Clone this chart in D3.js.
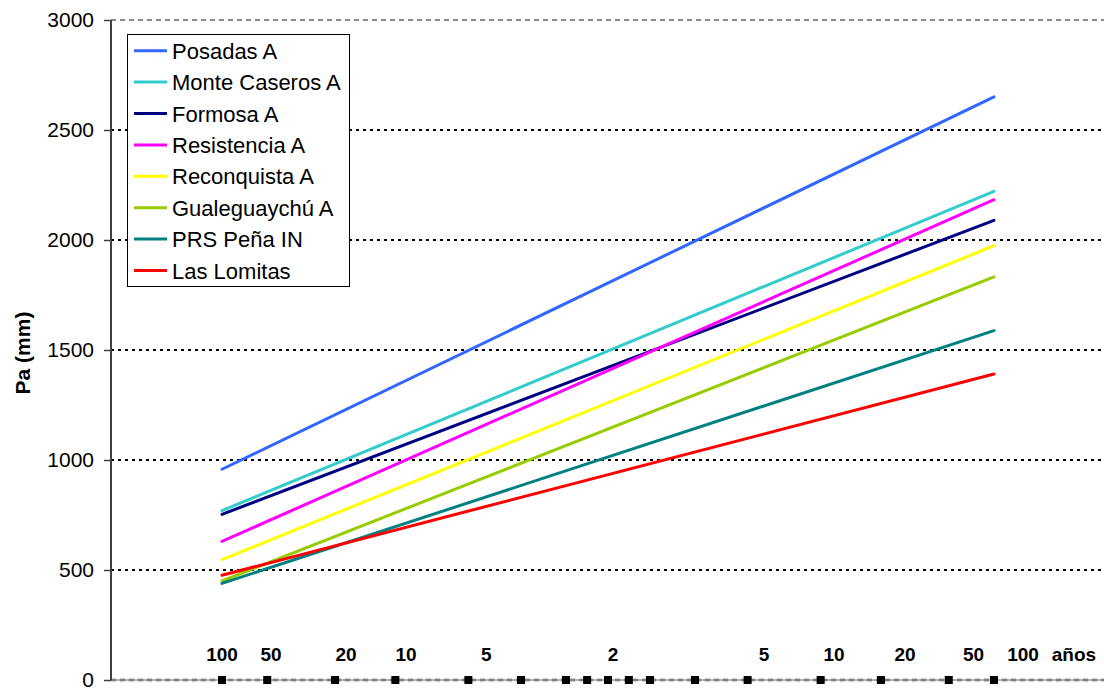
<!DOCTYPE html>
<html>
<head>
<meta charset="utf-8">
<script src="https://cdn.jsdelivr.net/npm/d3@7/dist/d3.min.js"></script>
<style>
  html, body { margin: 0; padding: 0; background: #fff; }
  svg { display: block; font-family: Arial, "Liberation Sans", sans-serif; }
</style>
</head>
<body>
<svg id="chart" width="1104" height="689"></svg>
<script>
// Precipitation (mm) vs. frequency on normal probability paper
const stations = ["Posadas A", "Monte Caseros A", "Formosa A", "Resistencia A",
                  "Reconquista A", "Gualeguaychú A", "PRS Peña IN", "Las Lomitas"];
const colors = ["#3366FF", "#33CCCC", "#000080", "#FF00FF",
                "#FFFF00", "#99CC00", "#008080", "#FF0000"];
// Pa at the 1% (dry, 100 años) and 99% (wet, 100 años) ends of each fitted line
const paDry = [958, 770, 753, 630, 547, 450, 439, 476];
const paWet = [2651, 2221, 2089, 2183, 1974, 1832, 1588, 1391];
const lineProbs = [0.01, 0.99];

// Probability markers along the base of the plot
const markerProbs = [0.01, 0.02, 0.05, 0.1, 0.2, 0.3, 0.4, 0.45, 0.5,
                     0.55, 0.6, 0.7, 0.8, 0.9, 0.95, 0.98, 0.99];

// Return period labels (text, position in standard normal units)
const periodLabels = ["100", "50", "20", "10", "5", "2", "5", "10", "20", "50", "100", "años"];
const periodLabelZ = [-2.326, -2.031, -1.579, -1.217, -0.733, 0.030, 0.940, 1.362, 1.790, 2.203, 2.501, 2.808];

const yTicks = [0, 500, 1000, 1500, 2000, 2500, 3000];

// Inverse standard normal CDF (Acklam's rational approximation)
function probit(p) {
  const a = [-3.969683028665376e+01, 2.209460984245205e+02, -2.759285104469687e+02,
             1.383577518672690e+02, -3.066479806614716e+01, 2.506628277459239e+00];
  const b = [-5.447609879822406e+01, 1.615858368580409e+02, -1.556989798598866e+02,
             6.680131188771972e+01, -1.328068155288572e+01];
  const c = [-7.784894002430293e-03, -3.223964580411365e-01, -2.400758277161838e+00,
             -2.549732539343734e+00, 4.374664141464968e+00, 2.938163982698783e+00];
  const d = [7.784695709041462e-03, 3.224671290700398e-01, 2.445134137142996e+00,
             3.754408661907416e+00];
  const pl = 0.02425, ph = 1 - pl;
  let q, r;
  if (p < pl) {
    q = Math.sqrt(-2 * Math.log(p));
    return (((((c[0]*q+c[1])*q+c[2])*q+c[3])*q+c[4])*q+c[5]) /
           ((((d[0]*q+d[1])*q+d[2])*q+d[3])*q+1);
  } else if (p <= ph) {
    q = p - 0.5; r = q * q;
    return (((((a[0]*r+a[1])*r+a[2])*r+a[3])*r+a[4])*r+a[5])*q /
           (((((b[0]*r+b[1])*r+b[2])*r+b[3])*r+b[4])*r+1);
  } else {
    q = Math.sqrt(-2 * Math.log(1 - p));
    return -(((((c[0]*q+c[1])*q+c[2])*q+c[3])*q+c[4])*q+c[5]) /
            ((((d[0]*q+d[1])*q+d[2])*q+d[3])*q+1);
  }
}

const svg = d3.select("#chart");
const plotLeft = 111, plotRight = 1104, plotTop = 20, plotBottom = 680;

const x = d3.scaleLinear().domain([probit(0.01), probit(0.99)]).range([222, 994]);
const y = d3.scaleLinear().domain([0, 3000]).range([plotBottom, plotTop]);

// Horizontal grid
const grid = svg.append("g");
grid.selectAll("line.major")
  .data(yTicks.filter(v => v > 0 && v < 3000))
  .join("line")
  .attr("x1", plotLeft).attr("x2", plotRight)
  .attr("y1", d => y(d)).attr("y2", d => y(d))
  .attr("stroke", "#000").attr("stroke-width", 2)
  .attr("stroke-dasharray", "3,4");
grid.append("line")
  .attr("x1", plotLeft).attr("x2", plotRight)
  .attr("y1", y(3000)).attr("y2", y(3000))
  .attr("stroke", "#8a8a8a").attr("stroke-width", 2)
  .attr("stroke-dasharray", "5,4");
grid.append("line")
  .attr("x1", plotLeft).attr("x2", plotRight)
  .attr("y1", y(0)).attr("y2", y(0))
  .attr("stroke", "#a0a0a0").attr("stroke-width", 3)
  .attr("stroke-dasharray", "5,4");
grid.append("line")
  .attr("x1", plotLeft).attr("x2", plotRight)
  .attr("y1", y(0)).attr("y2", y(0))
  .attr("stroke", "#606060").attr("stroke-width", 1);

// Y axis
const yAxis = d3.axisLeft(y).tickValues(yTicks).tickSize(7).tickPadding(10)
  .tickFormat(d3.format("d"));
const yg = svg.append("g").attr("transform", `translate(${plotLeft},0)`).call(yAxis);
yg.select(".domain").remove();
yg.selectAll(".tick line").attr("stroke", "#404040").attr("stroke-width", 1.5);
yg.selectAll(".tick text").attr("font-size", 21).attr("fill", "#000")
  .attr("font-family", "Arial, 'Liberation Sans', sans-serif");
svg.append("line")
  .attr("x1", plotLeft).attr("x2", plotLeft)
  .attr("y1", plotTop).attr("y2", plotBottom)
  .attr("stroke", "#404040").attr("stroke-width", 2);

svg.append("text")
  .attr("transform", `translate(30,${y(1500) + 3}) rotate(-90)`)
  .attr("text-anchor", "middle")
  .attr("font-size", 21).attr("font-weight", "bold")
  .text("Pa (mm)");

// Station lines
const lineGen = d3.line().x(d => x(probit(d.p))).y(d => y(d.v));
const seriesData = stations.map((name, i) => ({
  name, color: colors[i],
  pts: lineProbs.map((p, j) => ({ p, v: j === 0 ? paDry[i] : paWet[i] }))
}));
svg.append("g").selectAll("path")
  .data(seriesData)
  .join("path")
  .attr("d", d => lineGen(d.pts))
  .attr("fill", "none")
  .attr("stroke", d => d.color)
  .attr("stroke-width", 3)
  .attr("stroke-linecap", "round");

// Probability markers on the base line
svg.append("g").selectAll("rect")
  .data(markerProbs)
  .join("rect")
  .attr("x", d => x(probit(d)) - 4)
  .attr("y", y(0) - 4)
  .attr("width", 8).attr("height", 8)
  .attr("fill", "#000");

// Return period labels
svg.append("g").selectAll("text")
  .data(periodLabels)
  .join("text")
  .attr("x", (d, i) => x(periodLabelZ[i]))
  .attr("y", 661)
  .attr("text-anchor", "middle")
  .attr("font-size", 19).attr("font-weight", "bold")
  .text(d => d);

// Legend
const legend = svg.append("g");
legend.append("rect")
  .attr("x", 127.5).attr("y", 34.5).attr("width", 222).attr("height", 252)
  .attr("fill", "#fff").attr("stroke", "#000").attr("stroke-width", 1);
const rowH = 31.4;
const items = legend.selectAll("g.item")
  .data(seriesData)
  .join("g")
  .attr("transform", (d, i) => `translate(0,${50.7 + i * rowH})`);
items.append("line")
  .attr("x1", 134).attr("x2", 167).attr("y1", 0).attr("y2", 0)
  .attr("stroke", d => d.color).attr("stroke-width", 3);
items.append("text")
  .attr("x", 172).attr("y", 8)
  .attr("font-size", 22)
  .text(d => d.name);
</script>
</body>
</html>
